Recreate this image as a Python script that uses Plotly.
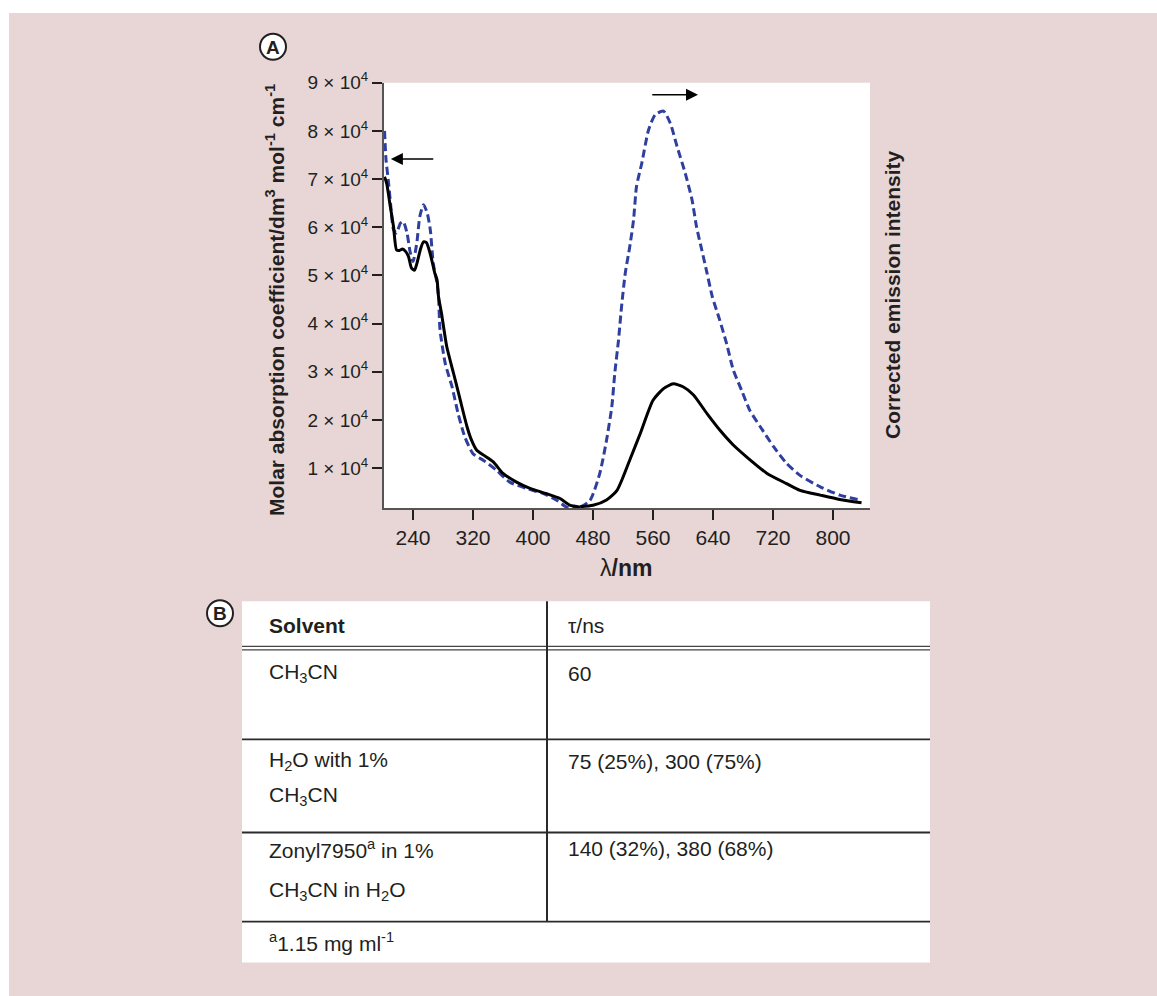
import plotly.graph_objects as go

W, H = 1157, 996

# ---------------- data ----------------
# Absorption (left axis, dm3 mol-1 cm-1)
abs_wl_solid = [202, 205, 209, 214, 218, 222, 226, 230, 234, 238, 242, 246, 250, 254, 258,
                262, 265, 269, 272, 274, 278, 285, 294, 303, 312, 318, 325, 334, 347, 360,
                378, 396, 418, 436, 449, 463]
abs_solid = [70500, 69000, 65000, 60100, 55300, 55200, 55500, 55000, 53900, 51500, 51100,
             53000, 55500, 57000, 56800, 55000, 53200, 50500, 49100, 45600, 42100, 35200,
             29700, 24100, 18600, 15800, 13700, 12700, 11300, 8900, 7100, 5800, 4700,
             3700, 2300, 1900]

abs_wl_dashed = [202, 204, 207, 210, 214, 218, 223, 227, 232, 236, 240, 245, 249, 254, 259,
                 263, 267, 272, 274, 276, 283, 292, 300, 309, 320, 334, 351, 369, 391, 414,
                 432, 445, 463]
abs_dashed = [80000, 74000, 69800, 65000, 59500, 58800, 60800, 61200, 58800, 55000, 52900,
              56700, 62200, 64700, 62900, 59500, 52500, 48400, 45600, 38700, 31700, 26900,
              21400, 16500, 13000, 11600, 9600, 7100, 5800, 4700, 3300, 1900, 1800]

# Emission (right axis, arbitrary units)
em_wl_solid = [463, 480, 498, 512, 529, 543, 560, 574, 587, 600, 614, 632, 649, 667, 685,
               712, 738, 756, 783, 809, 838]
em_solid = [0.20, 0.23, 0.34, 0.54, 1.17, 1.72, 2.41, 2.65, 2.75, 2.69, 2.52, 2.13, 1.79,
            1.48, 1.23, 0.89, 0.68, 0.54, 0.44, 0.35, 0.28]

em_wl_dashed = [463, 476, 489, 498, 505, 509, 514, 518, 523, 529, 534, 538, 545, 554, 563,
                574, 583, 592, 603, 612, 618, 625, 632, 639, 649, 658, 667, 678, 689, 703,
                721, 738, 756, 783, 809, 838]
em_dashed = [0.19, 0.33, 0.89, 1.58, 2.27, 2.97, 3.66, 4.35, 5.05, 5.60, 6.15, 6.85, 7.33,
             8.02, 8.34, 8.41, 8.16, 7.68, 7.12, 6.57, 6.01, 5.53, 5.05, 4.56, 4.07, 3.59,
             3.04, 2.62, 2.20, 1.86, 1.44, 1.10, 0.85, 0.61, 0.44, 0.33]

x_ticks = [240, 320, 400, 480, 560, 640, 720, 800]
y_ticks = [10000, 20000, 30000, 40000, 50000, 60000, 70000, 80000, 90000]
y_tick_labels = [f"{v // 10000} × 10<sup>4</sup>" for v in y_ticks]

x_title = "λ<b>/nm</b>"
y_title = "<b>Molar absorption coefficient/dm<sup>3</sup> mol<sup>-1</sup> cm<sup>-1</sup></b>"
y2_title = "<b>Corrected emission intensity</b>"

# Table B
table_header = ["<b>Solvent</b>", "τ/ns"]
solvent_lines = [["CH<sub>3</sub>CN"],
                 ["H<sub>2</sub>O with 1%", "CH<sub>3</sub>CN"],
                 ["Zonyl7950<sup>a</sup> in 1%", "CH<sub>3</sub>CN in H<sub>2</sub>O"]]
lifetimes = ["60", "75 (25%), 300 (75%)", "140 (32%), 380 (68%)"]
footnote = "<sup>a</sup>1.15 mg ml<sup>-1</sup>"

# ---------------- styles ----------------
FONT = "Liberation Sans, Arial, Helvetica, sans-serif"
TXT = "#231f20"
PINK = "#e7d6d5"
BLUE = "#2f3f9f"

# vertical calibration of the capture (observed: screen_y = 0.986 * page_y + 13.3)
VS, VO = 0.986, 13.3


def X(px):
    return px / W


def Y(py):
    page_y = (py - VO) / VS
    return 1 - page_y / H


fig = go.Figure()

fig.add_trace(go.Scatter(x=abs_wl_dashed, y=abs_dashed, mode="lines",
                         line=dict(color=BLUE, width=3, dash="8px,4px", shape="spline",
                                   smoothing=0.6), showlegend=False))
fig.add_trace(go.Scatter(x=abs_wl_solid, y=abs_solid, mode="lines",
                         line=dict(color="black", width=3, shape="spline", smoothing=0.6),
                         showlegend=False))
fig.add_trace(go.Scatter(x=em_wl_dashed, y=em_dashed, mode="lines", yaxis="y2",
                         line=dict(color=BLUE, width=3, dash="8px,4px", shape="spline",
                                   smoothing=0.6), showlegend=False))
fig.add_trace(go.Scatter(x=em_wl_solid, y=em_solid, mode="lines", yaxis="y2",
                         line=dict(color="black", width=3, shape="spline", smoothing=0.6),
                         showlegend=False))

px_left, px_right, px_top, px_bottom = 384, 870, 83, 508

fig.update_layout(
    width=W, height=H,
    margin=dict(l=0, r=0, t=0, b=0),
    paper_bgcolor="white",
    plot_bgcolor="rgba(0,0,0,0)",
    font=dict(family=FONT, color=TXT, size=20),
    xaxis=dict(domain=[X(px_left), X(px_right)], range=[201.3, 849.3],
               tickvals=x_ticks, ticks="outside", ticklen=10, tickwidth=2, tickcolor="#231f20",
               showline=True, linecolor="#555555", linewidth=2, showgrid=False, zeroline=False,
               tickfont=dict(size=21, color=TXT)),
    yaxis=dict(domain=[Y(px_bottom), Y(px_top)], range=[1690, 90000],
               tickvals=y_ticks, ticktext=y_tick_labels, ticks="outside", ticklen=10,
               tickwidth=2, tickcolor="#231f20",
               showline=True, linecolor="#555555", linewidth=2, showgrid=False, zeroline=False,
               tickfont=dict(size=19, color=TXT)),
    yaxis2=dict(overlaying="y", side="right", range=[0.169, 9.0], showticklabels=False,
                showline=False, showgrid=False, zeroline=False, ticks=""),
)

shapes = []
# pink background panel
shapes.append(dict(type="rect", xref="paper", yref="paper", x0=X(9), x1=1.0, y0=-0.05,
                   y1=min(1.0, Y(13)), fillcolor=PINK, line=dict(width=0), layer="below"))
# white plot area
shapes.append(dict(type="rect", xref="paper", yref="paper", x0=X(px_left), x1=X(px_right),
                   y0=Y(px_bottom), y1=Y(px_top), fillcolor="white", line=dict(width=0),
                   layer="below"))
# white table box
tb_l, tb_r, tb_t, tb_b = 242, 930, 601, 962
shapes.append(dict(type="rect", xref="paper", yref="paper", x0=X(tb_l), x1=X(tb_r),
                   y0=Y(tb_b), y1=Y(tb_t), fillcolor="white", line=dict(width=0), layer="below"))
# table rules
LINEC = "#2a2a2a"
for py in [646, 649.5]:
    shapes.append(dict(type="line", xref="paper", yref="paper", x0=X(tb_l), x1=X(tb_r),
                       y0=Y(py), y1=Y(py), line=dict(color="#444444", width=1.3)))
for py in [739, 832, 921]:
    shapes.append(dict(type="line", xref="paper", yref="paper", x0=X(tb_l), x1=X(tb_r),
                       y0=Y(py), y1=Y(py), line=dict(color=LINEC, width=1.8)))
shapes.append(dict(type="line", xref="paper", yref="paper", x0=X(547), x1=X(547),
                   y0=Y(921), y1=Y(tb_t), line=dict(color=LINEC, width=2)))
# circled panel labels
for cx, cy in [(273, 47), (220, 613)]:
    r = 13
    shapes.append(dict(type="circle", xref="paper", yref="paper", x0=X(cx - r), x1=X(cx + r),
                       y0=Y(cy + r), y1=Y(cy - r), line=dict(color="#231f20", width=2),
                       fillcolor="white"))
fig.update_layout(shapes=shapes)

ann = []
ann.append(dict(x=X(273), y=Y(47.5), xref="paper", yref="paper", text="<b>A</b>",
                showarrow=False, font=dict(size=19, color=TXT), xanchor="center", yanchor="middle"))
ann.append(dict(x=X(220), y=Y(613.5), xref="paper", yref="paper", text="<b>B</b>",
                showarrow=False, font=dict(size=19, color=TXT), xanchor="center", yanchor="middle"))
# axis titles
ann.append(dict(x=X(626), y=Y(568), xref="paper", yref="paper", text=x_title, showarrow=False,
                font=dict(size=23, color=TXT), xanchor="center", yanchor="middle"))
ann.append(dict(x=X(275), y=Y(300), xref="paper", yref="paper", text=y_title, showarrow=False,
                textangle=-90, font=dict(size=21, color=TXT), xanchor="center", yanchor="middle"))
ann.append(dict(x=X(893), y=Y(295), xref="paper", yref="paper", text=y2_title, showarrow=False,
                textangle=-90, font=dict(size=21, color=TXT), xanchor="center", yanchor="middle"))
# arrows (data coordinates)
ann.append(dict(x=210.5, y=74200, ax=269, ay=74200, xref="x", yref="y", axref="x", ayref="y",
                text="", showarrow=True, arrowhead=2, arrowsize=1.6, arrowwidth=1.5,
                arrowcolor="black"))
ann.append(dict(x=620, y=87500, ax=557, ay=87500, xref="x", yref="y", axref="x", ayref="y",
                text="", showarrow=True, arrowhead=2, arrowsize=1.6, arrowwidth=1.5,
                arrowcolor="black"))

# table text
TF = 21
col1_x, col2_x = 267, 566
ann.append(dict(x=X(col1_x), y=Y(625), xref="paper", yref="paper", text=table_header[0],
                showarrow=False, font=dict(size=TF, color=TXT), xanchor="left", yanchor="middle"))
ann.append(dict(x=X(col2_x), y=Y(625), xref="paper", yref="paper", text=table_header[1],
                showarrow=False, font=dict(size=TF, color=TXT), xanchor="left", yanchor="middle"))
row_line_y = [[673], [761, 796], [848, 890]]
for lines, ys, tau in zip(solvent_lines, row_line_y, lifetimes):
    for txt, py in zip(lines, ys):
        ann.append(dict(x=X(col1_x), y=Y(py), xref="paper", yref="paper", text=txt,
                        showarrow=False, font=dict(size=TF, color=TXT), xanchor="left",
                        yanchor="middle"))
    ann.append(dict(x=X(col2_x), y=Y(ys[0]), xref="paper", yref="paper", text=tau,
                    showarrow=False, font=dict(size=TF, color=TXT), xanchor="left",
                    yanchor="middle"))
ann.append(dict(x=X(col1_x), y=Y(941), xref="paper", yref="paper", text=footnote,
                showarrow=False, font=dict(size=TF, color=TXT), xanchor="left", yanchor="middle"))

fig.update_layout(annotations=ann)

fig.write_html(
    "out.html",
    config={"displayModeBar": False},
    post_script=(
        "document.body.style.margin='0px';"
        "document.documentElement.style.overflow='hidden';"
        "var g=document.getElementById('{plot_id}');"
        "g.style.position='fixed';g.style.left='0px';g.style.top='0px';"
    ),
)
